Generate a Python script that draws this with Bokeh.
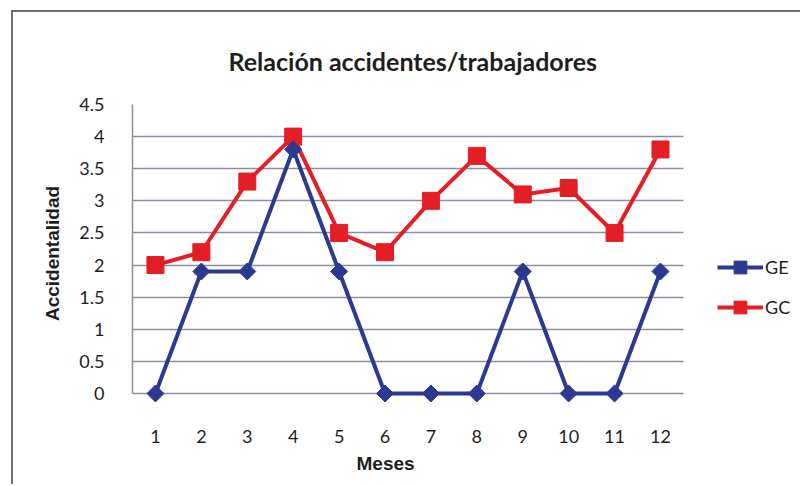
import math
from bokeh.plotting import figure
from bokeh.models import Range1d, Legend, LegendItem, Title
from bokeh.embed import file_html
from bokeh.resources import INLINE

# ---- data ----
months = [1, 2, 3, 4, 5, 6, 7, 8, 9, 10, 11, 12]
ge = [0, 1.9, 1.9, 3.8, 1.9, 0, 0, 0, 1.9, 0, 0, 1.9]
gc = [2.0, 2.2, 3.3, 4.0, 2.5, 2.2, 3.0, 3.7, 3.1, 3.2, 2.5, 3.8]
y_ticks = [0, 0.5, 1, 1.5, 2, 2.5, 3, 3.5, 4, 4.5]
y_tick_labels = ["0", "0.5", "1", "1.5", "2", "2.5", "3", "3.5", "4", "4.5"]
x_tick_labels = [str(m) for m in months]
title_text = "Relación accidentes/trabajadores"
x_title = "Meses"
y_title = "Accidentalidad"
series_names = ["GE", "GC"]

BLUE = "#2B3990"
RED = "#E41E25"
GRID = "#8C8CA6"
TXT = "#1E1E1E"
FRAME = "#6E6E6E"

X_LO, X_HI = 0.5, 12.5          # category band of the plot area
X_VIEW_HI = 15.05               # frame continues to the right to hold the legend
Y_LO, Y_HI = 0, 4.5
Y_VIEW_LO = -0.14               # small room below 0 so the markers on 0 are not clipped

p = figure(width=800, height=484, x_range=Range1d(X_LO, X_VIEW_HI), y_range=Range1d(Y_VIEW_LO, Y_HI),
           output_backend="svg", toolbar_location=None,
           min_border_left=132, min_border_right=0, min_border_top=104, min_border_bottom=82)
# transparent canvas so the grey chart-area rule (left and top) painted behind shows
p.border_fill_color = None
p.background_fill_color = None
p.outline_line_color = None
p.styles = {"background": (f"linear-gradient({FRAME}, {FRAME}) 11px 10px / 2px 100% no-repeat, "
                           f"linear-gradient({FRAME}, {FRAME}) 11px 10px / 100% 2px no-repeat, white")}

# title
p.title.text = title_text
p.title.align = "left"
p.title.offset = 96
p.title.text_font = "Lato"
p.title.text_font_style = "bold"
p.title.text_font_size = "25px"
p.title.text_color = TXT
p.title.standoff = 57

# axes
p.xaxis.ticker = months
p.xaxis.major_label_overrides = {m: s for m, s in zip(months, x_tick_labels)}
p.yaxis.ticker = y_ticks
p.yaxis.bounds = (Y_LO, Y_HI)
p.yaxis.major_label_overrides = {t: s for t, s in zip(y_ticks, y_tick_labels)}
for ax in (p.xaxis, p.yaxis):
    ax.axis_line_color = GRID
    ax.axis_line_width = 1.5
    ax.major_tick_line_color = None
    ax.minor_tick_line_color = None
    ax.major_label_text_font = "Lato"
    ax.major_label_text_font_size = "18px"
    ax.major_label_text_color = TXT
p.xaxis.axis_line_color = None   # the grid line at 0 is the category axis rule
p.xaxis.major_label_standoff = 21
p.yaxis.major_label_standoff = 22
p.yaxis.axis_label = y_title
p.yaxis.axis_label_text_font = "Liberation Sans"
p.yaxis.axis_label_text_font_style = "bold"
p.yaxis.axis_label_text_font_size = "19px"
p.yaxis.axis_label_text_color = TXT
p.yaxis.axis_label_standoff = 13

# x-axis title, centred under the category band as in the source
p.add_layout(Title(text=x_title, align="left", offset=224, standoff=10,
                   text_font="Liberation Sans", text_font_style="bold",
                   text_font_size="19px", text_color=TXT), "below")

p.xgrid.visible = False
ygrid = p.ygrid[0]
ygrid.grid_line_color = GRID
ygrid.grid_line_width = 1.5
try:
    ygrid.cross_bounds = (X_LO, X_HI)
except AttributeError:
    ygrid.visible = False
    p.segment(x0=[X_LO] * len(y_ticks), x1=[X_HI] * len(y_ticks), y0=y_ticks, y1=y_ticks,
              line_color=GRID, line_width=1.5, level="underlay")

# series (GC first, GE drawn on top)
gc_line = p.line(months, gc, line_color=RED, line_width=4)
gc_pts = p.scatter(months, gc, marker="square", size=17, fill_color=RED, line_color=RED)
ge_line = p.line(months, ge, line_color=BLUE, line_width=4)
ge_pts = p.scatter(months, ge, marker="square", angle=math.pi / 4, size=12,
                   fill_color=BLUE, line_color=BLUE)

legend = Legend(items=[LegendItem(label=series_names[0], renderers=[ge_line, ge_pts]),
                       LegendItem(label=series_names[1], renderers=[gc_line, gc_pts])],
                location=(585, 79), orientation="vertical",
                glyph_width=46, glyph_height=32, spacing=8, label_standoff=2,
                padding=0, margin=0, border_line_color=None, background_fill_alpha=0,
                label_text_font="Lato", label_text_font_size="18px", label_text_color=TXT)
p.add_layout(legend, "center")

open("out.html", "w").write(file_html(p, INLINE))
